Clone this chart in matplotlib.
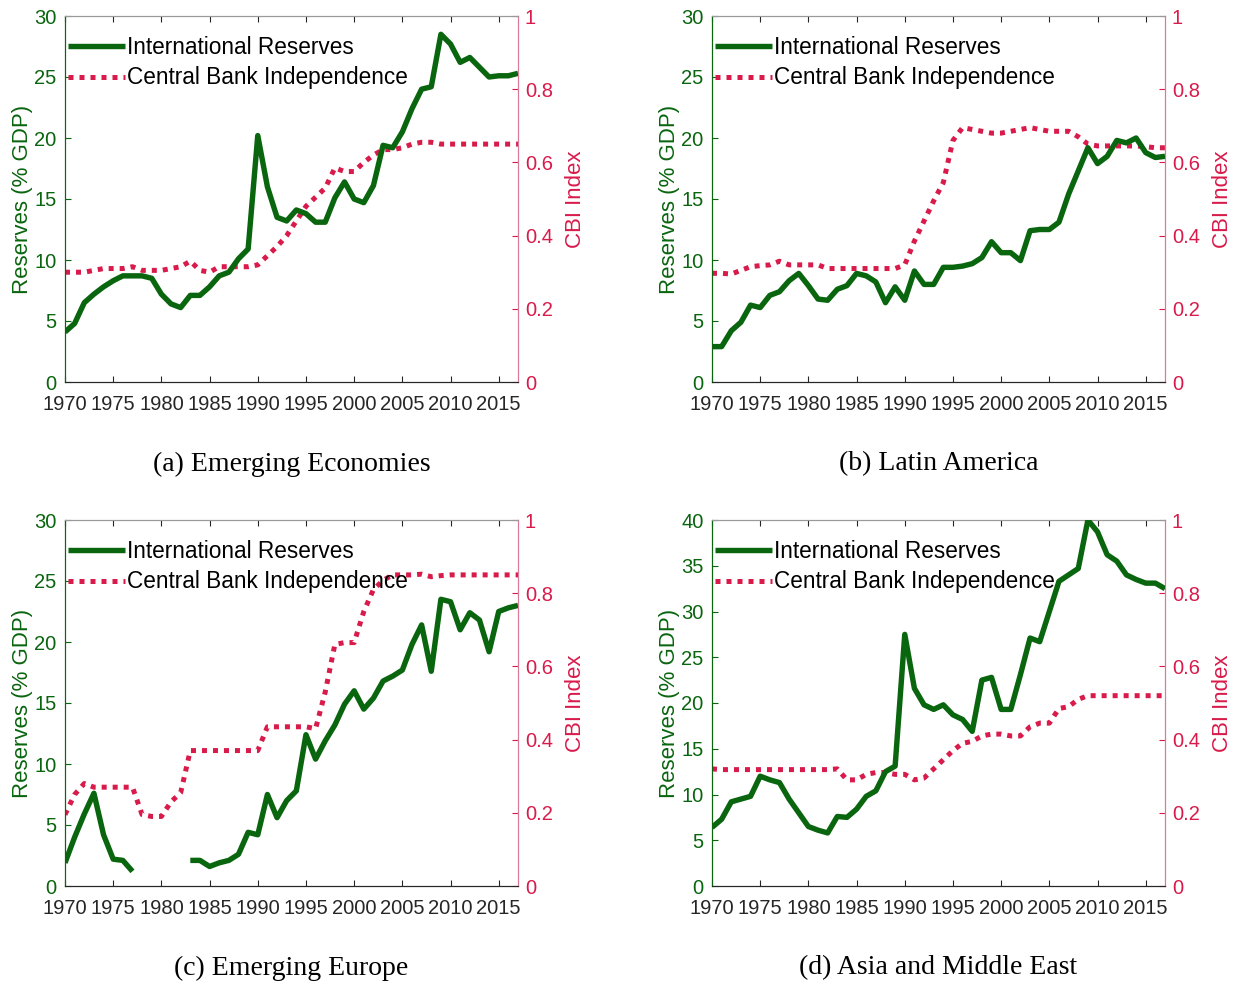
import numpy as np
import matplotlib
matplotlib.use("Agg")
import matplotlib.pyplot as plt

years = np.arange(1970, 2018)
nan = np.nan

# (a) Emerging Economies
res_em = [4.1, 4.8, 6.5, 7.2, 7.8, 8.3, 8.7, 8.7, 8.7, 8.5,
          7.2, 6.4, 6.1, 7.1, 7.1, 7.8, 8.7, 9.0, 10.1, 10.9,
          20.2, 16.0, 13.5, 13.2, 14.1, 13.8, 13.1, 13.1, 15.1, 16.4,
          15.0, 14.7, 16.1, 19.4, 19.2, 20.5, 22.4, 24.0, 24.2, 28.5,
          27.7, 26.2, 26.6, 25.8, 25.0, 25.1, 25.1, 25.3]
cbi_em = [0.30, 0.30, 0.30, 0.305, 0.31, 0.31, 0.31, 0.315, 0.305, 0.305,
          0.305, 0.31, 0.315, 0.33, 0.305, 0.30, 0.315, 0.315, 0.315, 0.315,
          0.32, 0.345, 0.37, 0.40, 0.44, 0.48, 0.505, 0.53, 0.585, 0.575,
          0.575, 0.60, 0.62, 0.635, 0.635, 0.64, 0.65, 0.655, 0.655, 0.65,
          0.65, 0.65, 0.65, 0.65, 0.65, 0.65, 0.65, 0.65]

# (b) Latin America
res_la = [2.9, 2.9, 4.2, 4.9, 6.3, 6.1, 7.1, 7.4, 8.3, 8.9,
          7.9, 6.8, 6.7, 7.6, 7.9, 8.9, 8.7, 8.2, 6.5, 7.8,
          6.7, 9.1, 8.0, 8.0, 9.4, 9.4, 9.5, 9.7, 10.2, 11.5,
          10.6, 10.6, 9.95, 12.4, 12.5, 12.5, 13.1, 15.4, 17.3, 19.2,
          17.9, 18.5, 19.8, 19.6, 20.0, 18.8, 18.4, 18.5]
cbi_la = [0.297, 0.297, 0.295, 0.305, 0.315, 0.318, 0.32, 0.33, 0.32, 0.32,
          0.32, 0.32, 0.31, 0.31, 0.31, 0.31, 0.31, 0.31, 0.31, 0.31,
          0.32, 0.385, 0.44, 0.495, 0.545, 0.66, 0.695, 0.69, 0.685, 0.68,
          0.68, 0.685, 0.69, 0.695, 0.69, 0.685, 0.685, 0.685, 0.67, 0.65,
          0.645, 0.645, 0.645, 0.645, 0.645, 0.643, 0.64, 0.64]

# (c) Emerging Europe
res_eu = [1.9, 4.0, 5.9, 7.6, 4.2, 2.2, 2.1, 1.2, nan, nan,
          nan, nan, nan, 2.1, 2.1, 1.6, 1.9, 2.1, 2.6, 4.4,
          4.2, 7.5, 5.6, 7.0, 7.8, 12.4, 10.4, 11.9, 13.2, 14.9,
          16.0, 14.5, 15.4, 16.8, 17.2, 17.7, 19.8, 21.4, 17.6, 23.5,
          23.3, 21.0, 22.4, 21.8, 19.2, 22.5, 22.8, 23.0]
cbi_eu = [0.195, 0.25, 0.28, 0.27, 0.27, 0.27, 0.27, 0.27, 0.195, 0.19,
          0.19, 0.23, 0.255, 0.37, 0.37, 0.37, 0.37, 0.37, 0.37, 0.37,
          0.37, 0.435, 0.435, 0.435, 0.435, 0.435, 0.43, 0.53, 0.66, 0.665,
          0.665, 0.75, 0.81, 0.835, 0.85, 0.85, 0.85, 0.852, 0.845, 0.848,
          0.85, 0.85, 0.85, 0.85, 0.85, 0.85, 0.85, 0.85]

# (d) Asia and Middle East
res_as = [6.4, 7.3, 9.2, 9.5, 9.8, 12.0, 11.6, 11.3, 9.5, 8.0,
          6.5, 6.1, 5.8, 7.6, 7.5, 8.4, 9.8, 10.4, 12.5, 13.1,
          27.5, 21.6, 19.8, 19.3, 19.8, 18.7, 18.2, 16.9, 22.5, 22.8,
          19.3, 19.3, 23.1, 27.1, 26.7, 30.0, 33.3, 34.0, 34.7, 40.0,
          38.7, 36.2, 35.5, 34.0, 33.5, 33.1, 33.1, 32.5]
cbi_as = [0.32, 0.318, 0.318, 0.318, 0.318, 0.318, 0.318, 0.318, 0.318, 0.318,
          0.318, 0.318, 0.318, 0.32, 0.29, 0.29, 0.305, 0.31, 0.31, 0.305,
          0.305, 0.29, 0.295, 0.32, 0.345, 0.37, 0.39, 0.395, 0.41, 0.415,
          0.415, 0.41, 0.41, 0.435, 0.445, 0.445, 0.485, 0.49, 0.51, 0.52,
          0.52, 0.52, 0.52, 0.52, 0.52, 0.52, 0.52, 0.52]

panels = [
    ("(a) Emerging Economies", res_em, cbi_em, 30, [0, 5, 10, 15, 20, 25, 30]),
    ("(b) Latin America", res_la, cbi_la, 30, [0, 5, 10, 15, 20, 25, 30]),
    ("(c) Emerging Europe", res_eu, cbi_eu, 30, [0, 5, 10, 15, 20, 25, 30]),
    ("(d) Asia and Middle East", res_as, cbi_as, 40, [0, 5, 10, 15, 20, 25, 30, 35, 40]),
]

GREEN = "#0a650f"
RED = "#d81b4b"
GRAY = "#262626"
SANS = ["Liberation Sans", "DejaVu Sans"]

fig = plt.figure(figsize=(12.38, 9.83), dpi=100)

lefts = [65, 712, 65, 712]
tops = [16, 16, 520, 520]
W, H = 453, 366
cap_y = [464, 968]

for i, (title, res, cbi, ymax, yticks) in enumerate(panels):
    l = lefts[i] / 1238
    b = 1 - (tops[i] + H) / 983
    ax = fig.add_axes([l, b, W / 1238, H / 983])
    ax2 = ax.twinx()

    h1, = ax.plot(years, res, color=GREEN, lw=3.9, solid_capstyle="butt",
                  label="International Reserves", zorder=3)
    h2, = ax2.plot(years, cbi, color=RED, lw=3.6, linestyle=(0, (1, 1.2)),
                   dash_capstyle="butt", label="Central Bank Independence")

    ax.set_xlim(1970, 2017)
    ax.set_ylim(0, ymax)
    ax.set_yticks(yticks)
    ax2.set_ylim(0, 1)
    ax2.set_yticks([0, 0.2, 0.4, 0.6, 0.8, 1])
    ax2.set_yticklabels(["0", "0.2", "0.4", "0.6", "0.8", "1"])
    ax.set_xticks(np.arange(1970, 2016, 5))

    ax.tick_params(axis="x", direction="in", length=4, colors=GRAY, labelsize=14.5,
                   top=True, pad=9)
    ax.tick_params(axis="y", direction="in", length=4, colors=GREEN, labelsize=14.5, pad=6)
    ax2.tick_params(axis="y", direction="in", length=4, colors=RED, labelsize=14.5, pad=5)
    for t in ax.get_xticklabels() + ax.get_yticklabels() + ax2.get_yticklabels():
        t.set_family(SANS)

    for a in (ax, ax2):
        a.spines["top"].set_color("#9a9a9a")
        a.spines["bottom"].set_color(GRAY)
        a.spines["left"].set_color(GREEN)
        a.spines["right"].set_color("#d87a98")
        for s in a.spines.values():
            s.set_linewidth(0.8)

    ax.set_ylabel("Reserves (% GDP)", color=GREEN, fontsize=16, family=SANS, labelpad=1)
    ax2.set_ylabel("CBI Index", color=RED, fontsize=16, family=SANS, labelpad=9)

    ax2.set_zorder(1)
    ax.set_zorder(2)
    ax.patch.set_visible(False)

    ax.legend([h1, h2], [h1.get_label(), h2.get_label()], loc="upper left",
              bbox_to_anchor=(3 / W, 1 - 20 / H), frameon=False,
              handlelength=2.5, handletextpad=0.1, labelspacing=0.33,
              borderpad=0, borderaxespad=0,
              prop={"family": SANS, "size": 16.3})

    cx = (lefts[i] + W / 2) / 1238
    fig.text(cx, 1 - cap_y[i // 2] / 983, title, ha="center", va="center",
             fontsize=20, family=["Liberation Serif", "DejaVu Serif"])

fig.savefig("out.png", dpi=100)
